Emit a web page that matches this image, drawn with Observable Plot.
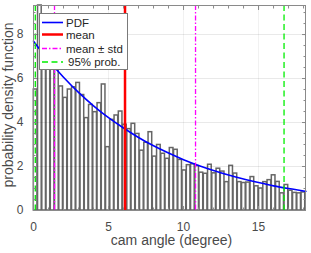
<!DOCTYPE html>
<html><head><meta charset="utf-8">
<script src="https://cdn.jsdelivr.net/npm/d3@7"></script>
<script src="https://cdn.jsdelivr.net/npm/@observablehq/plot@0.6"></script>
<style>
body{margin:0;background:#fff;}
#wrap{position:relative;width:311px;height:253px;font-family:"Liberation Sans",Arial,sans-serif;}
#wrap svg{display:block;}
</style></head><body><div id="wrap"></div>
<script>
// histogram (density) of cam angle, bins of equal width starting at 0
const binWidth = 0.2833;
const density = [5.5, 9.32, 7.6, 8.0, 7.1, 6.7, 5.64, 5.12, 5.5, 5.6, 5.8, 5.25, 4.2, 4.8, 4.47, 4.88,
  5.73, 2.88, 4.12, 4.32, 4.5, 3.9, 3.7, 3.94, 3.48, 2.72, 3.08, 3.56, 2.45, 2.98, 2.58, 2.35,
  2.84, 2.76, 2.3, 1.82, 2.06, 2.1, 2.02, 1.72, 1.67, 2.08, 1.69, 1.9, 1.77, 1.29,
  2.03, 1.68, 1.29, 1.25, 1.27, 1.52, 1.1, 1.0, 1.29, 1.38, 1.6, 1.3, 0.78, 1.16, 0.9, 0.8, 0.78, 0.82];
// fitted PDF
const pdfX = [0, 1, 2, 3, 4, 5, 6, 7, 8, 9, 10, 11, 12, 13, 14, 15, 16, 17, 18, 18.13];
const pdfY = [7.70, 6.83, 6.06, 5.37, 4.76, 4.22, 3.75, 3.32, 2.94, 2.61, 2.31, 2.05, 1.82, 1.61, 1.43, 1.27, 1.12, 1.00, 0.89, 0.87];
const meanValue = 6.1;
const stdBounds = [1.4, 10.8];
const prob95 = [0.12, 16.7];
const xDomain = [0, 18.13];
const yDomain = [0, 9.32];
const xTicks = [0, 5, 10, 15];
const xMinor = [0, 1, 2, 3, 4, 5, 6, 7, 8, 9, 10, 11, 12, 13, 14, 15, 16, 17, 18];
const yTicks = [0, 2, 4, 6, 8];
const yMinor = [0, 0.5, 1, 1.5, 2, 2.5, 3, 3.5, 4, 4.5, 5, 5.5, 6, 6.5, 7, 7.5, 8, 8.5, 9];
const xLabel = "cam angle (degree)";
const yLabel = "probability density function";
const legendLabels = ["PDF", "mean", "mean \u00b1 std", "95% prob."];

const bins = density.map((v, i) => ({x1: i * binWidth, x2: (i + 1) * binWidth, y: v}));
const pdf = pdfX.map((x, i) => ({x, y: pdfY[i]}));
const frameColor = "#8a8a8a";
const textColor = "#4a4a4a";
const font = '"Liberation Sans", Arial, sans-serif';

const chart = Plot.plot({
  width: 311, height: 253,
  marginLeft: 33, marginRight: 6, marginTop: 5, marginBottom: 43,
  x: {domain: xDomain},
  y: {domain: yDomain},
  style: {fontFamily: font, fontSize: "12px", color: textColor, background: "white"},
  marks: [
    Plot.rectY(bins, {x1: "x1", x2: "x2", y: "y", insetLeft: 0.3, insetRight: 0.3, fill: "white", stroke: "#666666", strokeWidth: 1.5}),
    Plot.gridY(yTicks.slice(1), {stroke: "#000", strokeOpacity: 0.09}),
    Plot.gridX(xTicks.slice(1), {stroke: "#000", strokeOpacity: 0.06}),
    Plot.line(pdf, {x: "x", y: "y", stroke: "#0000ff", strokeWidth: 1.6, curve: "natural"}),
    Plot.ruleX(prob95, {stroke: "#00ee00", strokeWidth: 1.3, strokeDasharray: "6,3.5"}),
    Plot.ruleX(stdBounds, {stroke: "#ff00ff", strokeWidth: 1.3, strokeDasharray: "5,2,1.5,2"}),
    Plot.ruleX([meanValue], {stroke: "#ff0000", strokeWidth: 2.5}),
    Plot.frame({stroke: frameColor}),
    // inward ticks on all sides
    Plot.axisX(xMinor, {anchor: "bottom", tickSize: -2.5, fill: "none", stroke: frameColor, label: null}),
    Plot.axisX(xMinor, {anchor: "top", tickSize: -2.5, fill: "none", stroke: frameColor, label: null}),
    Plot.axisX(xTicks, {anchor: "bottom", tickSize: -4, fill: "none", stroke: frameColor, label: null}),
    Plot.axisX(xTicks, {anchor: "top", tickSize: -4, fill: "none", stroke: frameColor, label: null}),
    Plot.axisY(yMinor, {anchor: "left", tickSize: -2.5, fill: "none", stroke: frameColor, label: null}),
    Plot.axisY(yMinor, {anchor: "right", tickSize: -2.5, fill: "none", stroke: frameColor, label: null}),
    Plot.axisY(yTicks, {anchor: "left", tickSize: -4, fill: "none", stroke: frameColor, label: null}),
    Plot.axisY(yTicks, {anchor: "right", tickSize: -4, fill: "none", stroke: frameColor, label: null}),
    // tick labels
    Plot.axisX(xTicks, {anchor: "bottom", tickSize: 0, tickPadding: 12, fontSize: 12, label: null}),
    Plot.axisY(yTicks, {anchor: "left", tickSize: 0, tickPadding: 10, fontSize: 12, label: null}),
    // axis titles
    Plot.text([xLabel], {frameAnchor: "bottom", dx: 2, dy: 34, fontSize: 14, fill: textColor, textAnchor: "middle"}),
    Plot.text([yLabel], {frameAnchor: "left", dx: -25, dy: -3, rotate: -90, fontSize: 14, fill: textColor, textAnchor: "middle"})
  ]
});
document.getElementById("wrap").appendChild(chart);

// legend box overlay
const leg = d3.select("#wrap").append("svg")
  .attr("width", 311).attr("height", 253)
  .style("position", "absolute").style("left", "0px").style("top", "0px")
  .style("pointer-events", "none")
  .attr("font-family", font);
leg.append("rect").attr("x", 39.5).attr("y", 13.5).attr("width", 88).attr("height", 56)
  .attr("fill", "white").attr("stroke", "#7a7a7a").attr("stroke-width", 1);
const legStyles = [
  {stroke: "#0000ff", width: 1.6, dash: null},
  {stroke: "#ff0000", width: 2.5, dash: null},
  {stroke: "#ff00ff", width: 1.3, dash: "5,2,1.5,2"},
  {stroke: "#00ee00", width: 1.3, dash: "6,3.5"}
];
const rowY = [22.5, 34.5, 48.5, 62];
legendLabels.forEach((lab, i) => {
  const s = legStyles[i];
  leg.append("line").attr("x1", 42).attr("x2", 63).attr("y1", rowY[i]).attr("y2", rowY[i])
    .attr("stroke", s.stroke).attr("stroke-width", s.width).attr("stroke-dasharray", s.dash);
  leg.append("text").attr("x", i === 3 ? 68 : 66).attr("y", rowY[i]).attr("dy", "0.35em")
    .attr("font-size", 11.5).attr("fill", "#262626").text(lab);
});
</script>
</body></html>
